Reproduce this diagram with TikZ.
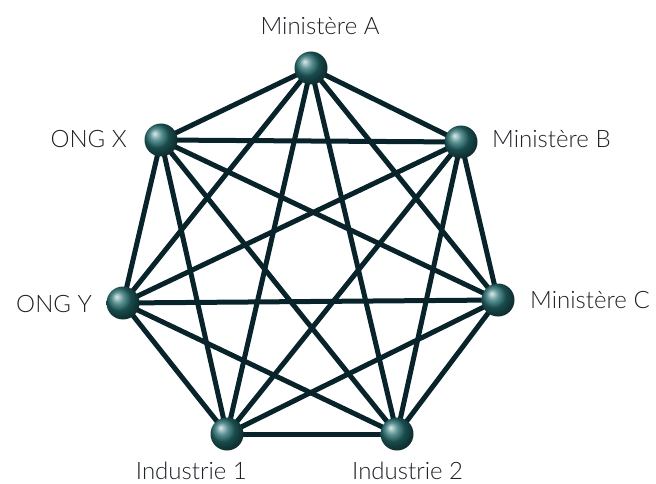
\documentclass[tikz,border=0pt]{standalone}
\usepackage{fontspec}
\setmainfont{Lato Light}
\definecolor{edgecol}{RGB}{8,36,42}
\definecolor{ballcol}{RGB}{36,108,110}
\begin{document}
\begin{tikzpicture}[x=1pt,y=-1pt,
  ball/.style={circle,minimum size=33pt,inner sep=0pt,shading=ball,ball color=ballcol},
  edge/.style={draw=edgecol,line width=5pt},
  lab/.style={font=\fontsize{24}{28}\selectfont,text={rgb,255:red,30;green,34;blue,38},inner sep=0pt}]
\useasboundingbox (0,0) rectangle (656,484);
\coordinate (A) at (311,68);
\coordinate (B) at (461,142);
\coordinate (C) at (498,300);
\coordinate (I2) at (397,434);
\coordinate (I1) at (227,434);
\coordinate (Y) at (123,303);
\coordinate (X) at (161,140);
\foreach \p/\q in {A/B,A/C,A/I2,A/I1,A/Y,A/X,B/C,B/I2,B/I1,B/Y,B/X,C/I2,C/I1,C/Y,C/X,I2/I1,I2/Y,I2/X,I1/Y,I1/X,Y/X}
  \draw[edge] (\p) -- (\q);
\node[ball] (nA) at (A) {};
\node[ball] (nB) at (B) {};
\node[ball] (nC) at (C) {};
\node[ball] (nI2) at (I2) {};
\node[ball] (nI1) at (I1) {};
\node[ball] (nY) at (Y) {};
\node[ball] (nX) at (X) {};
\node[lab,anchor=base] (lA) at (320,35) {Ministère A};
\node[lab,anchor=base west] (lB) at (492,147) {Ministère B};
\node[lab,anchor=base west] (lC) at (530,308) {Ministère C};
\node[lab,anchor=base west] (lI2) at (352,479) {Industrie 2};
\node[lab,anchor=base east] (lI1) at (247,479) {Industrie 1};
\node[lab,anchor=base east] (lX) at (127,147) {ONG X};
\node[lab,anchor=base east] (lY) at (92,312) {ONG Y};
\end{tikzpicture}
\end{document}
